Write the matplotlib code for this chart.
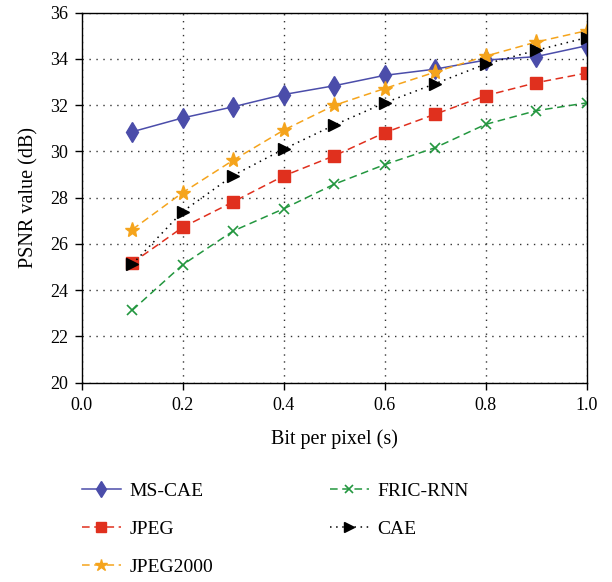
import numpy as np
import matplotlib.pyplot as plt

plt.rcParams['font.family'] = ['Liberation Serif', 'DejaVu Serif']

bpp = [0.1, 0.2, 0.3, 0.4, 0.5, 0.6, 0.7, 0.8, 0.9, 1.0]

ms_cae = [30.85, 31.45, 31.93, 32.46, 32.84, 33.29, 33.56, 33.95, 34.10, 34.57]
jpeg = [25.18, 26.72, 27.82, 28.94, 29.81, 30.81, 31.61, 32.41, 32.97, 33.39]
jpeg2000 = [26.62, 28.22, 29.62, 30.92, 31.99, 32.72, 33.43, 34.12, 34.73, 35.22]
fric_rnn = [23.13, 25.10, 26.56, 27.52, 28.58, 29.43, 30.16, 31.17, 31.76, 32.10]
cae = [25.12, 27.40, 28.96, 30.10, 31.14, 32.10, 32.93, 33.78, 34.37, 34.92]

xticks = [0.0, 0.2, 0.4, 0.6, 0.8, 1.0]
yticks = [20, 22, 24, 26, 28, 30, 32, 34, 36]

fig = plt.figure(figsize=(6.12, 5.82), dpi=100)
ax = fig.add_axes([81.7/612, 1-382.7/582, (586.5-81.7)/612, (382.7-12.7)/582])

ax.plot(bpp, ms_cae, color='#4b4daa', ls='-', lw=1.1, marker='d', ms=10, label='MS-CAE')
ax.plot(bpp, jpeg, color='#e0301e', ls=(0, (5, 3)), lw=1.1, marker='s', ms=8, label='JPEG')
ax.plot(bpp, jpeg2000, color='#f5a41c', ls=(0, (5, 3)), lw=1.1, marker='*', ms=11, label='JPEG2000')
ax.plot(bpp, fric_rnn, color='#23973f', ls=(0, (5, 3)), lw=1.1, marker='x', ms=7, mew=1.2, label='FRIC-RNN')
ax.plot(bpp, cae, color='black', ls=(0, (1, 3)), lw=1.1, marker='>', ms=8, label='CAE')

ax.set_xlim(0, 1.0)
ax.set_ylim(20, 36)
ax.set_xticks(xticks)
ax.set_xticklabels(['%.1f' % v for v in xticks])
ax.set_yticks(yticks)
ax.tick_params(direction='out', length=5, width=1, labelsize=13, pad=5, top=False, right=False)
ax.grid(True, ls=(0, (1, 4)), color='#333333', lw=1.0)
for s in ax.spines.values():
    s.set_linewidth(1.0)

ax.set_xlabel('Bit per pixel (s)', fontsize=14.5, labelpad=11)
ax.set_ylabel('PSNR value (dB)', fontsize=14.5, labelpad=8)

fig.legend(loc='upper left', bbox_to_anchor=(64/612, 1-465/582), ncol=2, frameon=False,
           fontsize=14, handlelength=2.05, handletextpad=0.4, labelspacing=1.05,
           columnspacing=6.0, markerscale=0.85)

fig.savefig('out.png', dpi=100)
